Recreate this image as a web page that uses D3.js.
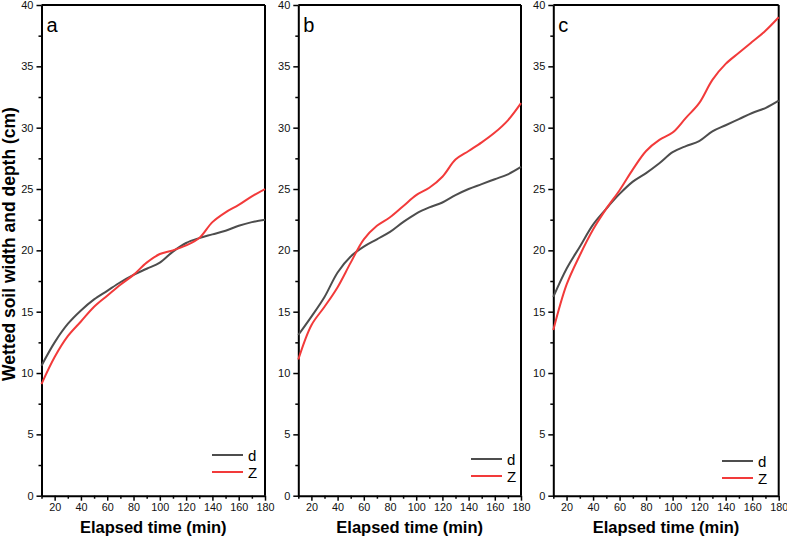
<!DOCTYPE html>
<html><head><meta charset="utf-8">
<script src="https://cdn.jsdelivr.net/npm/d3@7/dist/d3.min.js"></script>
<style>body{margin:0;background:#fff}svg{display:block}text{font-family:"Liberation Sans",Arial,sans-serif}</style>
</head><body>
<script>
const time = [10,20,30,40,50,60,70,80,90,100,110,120,130,140,150,160,170,180];
const aD = [10.6,12.5,14.0,15.1,16.0,16.7,17.4,18.0,18.5,19.0,19.9,20.6,21.0,21.3,21.6,22.0,22.3,22.5];
const aZ = [9.1,11.3,13.0,14.2,15.4,16.3,17.2,18.0,19.0,19.7,20.0,20.4,21.0,22.3,23.1,23.7,24.4,25.0];
const bD = [13.1,14.6,16.2,18.2,19.5,20.3,20.9,21.5,22.3,23.0,23.5,23.9,24.5,25.0,25.4,25.8,26.2,26.8];
const bZ = [11.1,13.9,15.4,17.0,19.0,20.9,22.0,22.7,23.6,24.5,25.1,26.0,27.4,28.1,28.8,29.6,30.6,32.0];
const cD = [16.2,18.5,20.3,22.1,23.4,24.6,25.6,26.3,27.1,28.0,28.5,28.9,29.7,30.2,30.7,31.2,31.6,32.2];
const cZ = [13.5,17.2,19.6,21.7,23.4,24.9,26.6,28.1,29.0,29.6,30.8,32.0,33.9,35.2,36.1,37.0,37.9,39.0];
const panelLabels = ["a","b","c"];
const seriesNames = ["d","Z"];
const xTicks = [20,40,60,80,100,120,140,160,180];
const yTicks = [0,5,10,15,20,25,30,35,40];

const panels = [
  {label:panelLabels[0], d:aD, z:aZ, x0:41.5, x1:265, leg:[212,455]},
  {label:panelLabels[1], d:bD, z:bZ, x0:298.3, x1:521, leg:[471,459]},
  {label:panelLabels[2], d:cD, z:cZ, x0:553.3, x1:778.7, leg:[722,461]}
];
const colors = ["#4d4d4d","#f23a3a"];
const yTop = 5, yBot = 495.7;

const svg = d3.select("body").append("svg").attr("width",787).attr("height",541);

panels.forEach(p => {
  const x = d3.scaleLinear().domain([10,180]).range([p.x0,p.x1]);
  const y = d3.scaleLinear().domain([0,40]).range([yBot,yTop]);
  const g = svg.append("g");

  const xMinor = d3.range(10,181,10).filter(v => v%20!==0);
  const yMinor = d3.range(2.5,40,5);
  g.append("g").attr("transform",`translate(0,${yBot})`)
    .call(d3.axisBottom(x).tickValues(xMinor).tickSize(3).tickFormat(""))
    .call(s=>{s.select(".domain").remove(); s.selectAll("line").attr("stroke","#000").attr("stroke-width",1.5);});
  g.append("g").attr("transform",`translate(${p.x0},0)`)
    .call(d3.axisLeft(y).tickValues(yMinor).tickSize(3).tickFormat(""))
    .call(s=>{s.select(".domain").remove(); s.selectAll("line").attr("stroke","#000").attr("stroke-width",1.5);});

  g.append("g").attr("transform",`translate(0,${yBot})`)
    .call(d3.axisBottom(x).tickValues(xTicks).tickSize(5).tickSizeOuter(0).tickPadding(3))
    .call(s=>{s.select(".domain").attr("stroke","#000").attr("stroke-width",2);
      s.selectAll("line").attr("stroke","#000").attr("stroke-width",1.5);
      s.selectAll("text").attr("font-size",10.8).attr("fill","#111").attr("font-family","Liberation Sans, Arial, sans-serif");});
  g.append("g").attr("transform",`translate(${p.x0},0)`)
    .call(d3.axisLeft(y).tickValues(yTicks).tickSize(5).tickSizeOuter(0).tickPadding(3))
    .call(s=>{s.select(".domain").attr("stroke","#000").attr("stroke-width",2);
      s.selectAll("line").attr("stroke","#000").attr("stroke-width",1.5);
      s.selectAll("text").attr("font-size",11).attr("fill","#111").attr("font-family","Liberation Sans, Arial, sans-serif");});

  g.append("line").attr("x1",x(10)).attr("x2",x(180)).attr("y1",y(40)).attr("y2",y(40)).attr("stroke","#000").attr("stroke-width",2);
  g.append("line").attr("x1",x(180)).attr("x2",x(180)).attr("y1",y(40)).attr("y2",y(0)).attr("stroke","#000").attr("stroke-width",2);

  const line = d3.line().x((d,i)=>x(time[i])).y(d=>y(d)).curve(d3.curveCatmullRom.alpha(0.5));
  [p.d,p.z].forEach((arr,k)=>{
    g.append("path").datum(arr).attr("d",line).attr("fill","none")
      .attr("stroke",colors[k]).attr("stroke-width",2);
  });

  g.append("text").attr("x",p.x0+5).attr("y",32).attr("font-size",20).attr("fill","#000").text(p.label);

  seriesNames.forEach((n,k)=>{
    const ly = p.leg[1] + k*17;
    g.append("line").attr("x1",p.leg[0]).attr("x2",p.leg[0]+31).attr("y1",ly).attr("y2",ly)
      .attr("stroke",colors[k]).attr("stroke-width",2);
    g.append("text").attr("x",p.leg[0]+36).attr("y",ly+5.5).attr("font-size",15).attr("fill","#000").text(n);
  });

  g.append("text").attr("x",(p.x0+p.x1)/2).attr("y",533).attr("text-anchor","middle")
    .attr("font-size",16.5).attr("font-weight","bold").attr("fill","#000").text("Elapsed time (min)");
});

svg.append("text").attr("transform",`translate(15,244) rotate(-90)`)
  .attr("text-anchor","middle").attr("font-size",17.5).attr("font-weight","bold").attr("fill","#000")
  .text("Wetted soil width and depth (cm)");
</script>
</body></html>
